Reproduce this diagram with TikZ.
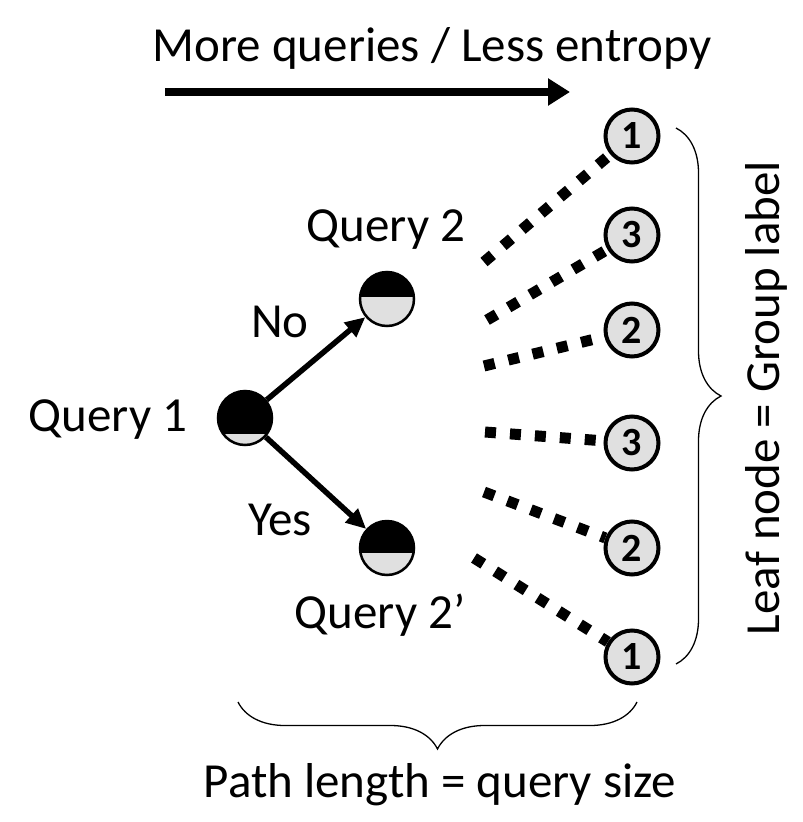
\documentclass[tikz,border=0pt]{standalone}
\usepackage{fontspec}
\setmainfont{Carlito}
\usetikzlibrary{arrows.meta,decorations.pathreplacing}
\definecolor{qgray}{RGB}{224,224,224}
\begin{document}
\begin{tikzpicture}[x=1pt,y=-1pt,
  lbl/.style={font=\fontsize{49}{58}\selectfont, inner sep=0pt},
  qnode/.style={circle, draw=black, line width=2.5pt, minimum size=54pt, inner sep=0pt,
    path picture={\fill[black] (path picture bounding box.south west) rectangle (path picture bounding box.north east);
      \fill[qgray] (path picture bounding box.south west) rectangle ([yshift=#1]path picture bounding box.south east);}},
  leaf/.style={circle, draw=black, line width=4pt, fill=qgray, minimum size=53pt, inner sep=0pt,
    font=\fontsize{40}{44}\selectfont\bfseries},
  branch/.style={line width=5.5pt, -{Triangle[length=20pt,width=18pt]}},
  dots/.style={line width=11pt, dash pattern=on 11pt off 14pt, line cap=butt},
  brace/.style={decorate, decoration={brace, amplitude=#1}, line width=1.3pt}
]
\useasboundingbox (0,0) rectangle (803,822);

% title
\node[lbl] (title) at (432,48) {More queries / Less entropy};
\coordinate (ta) at (165,92);
\coordinate (tb) at (570,92);
\draw[line width=8pt, -{Triangle[length=22pt,width=26pt]}] (ta) -- (tb);

% query nodes
\node[qnode=11pt] (q1) at (245,418) {};
\node[qnode=29pt] (q2) at (387,299) {};
\node[qnode=22pt] (q2b) at (387,548) {};

\node[lbl] (q1l) at (108,420) {Query 1};
\node[lbl] (q2l) at (386,230) {Query 2};
\node[lbl] (q2bl) at (380,615) {Query 2’};
\node[lbl] (no) at (280,322) {No};
\node[lbl] (yes) at (280,520) {Yes};

\draw[branch] (q1) -- (q2);
\draw[branch] (q1) -- (q2b);

% dotted connectors
\coordinate (s1) at (484,262);
\coordinate (s2) at (487,320);
\coordinate (s3) at (484,366);
\coordinate (s4) at (485,432);
\coordinate (s5) at (484,492);
\coordinate (s6) at (474,558);

\path (632,136) node[leaf] (l1) {1}
      (632,235) node[leaf] (l2) {3}
      (632,330) node[leaf] (l3) {2}
      (632,443) node[leaf] (l4) {3}
      (632,548) node[leaf] (l5) {2}
      (632,657) node[leaf] (l6) {1};

\draw[dots] (s1) -- (l1);
\draw[dots] (s2) -- (l2);
\draw[dots] (s3) -- (l3);
\draw[dots] (s4) -- (l4);
\draw[dots] (s5) -- (l5);
\draw[dots] (s6) -- (l6);

% braces
\coordinate (rb1) at (676,128);
\coordinate (rb2) at (676,664);
\draw[brace=45pt] (rb1) -- (rb2);
\coordinate (bb1) at (637,702);
\coordinate (bb2) at (238,702);
\draw[brace=47pt] (bb1) -- (bb2);

\node[lbl, rotate=90] (leafl) at (766,398) {Leaf node = Group label};
\node[lbl] (pathl) at (440,785) {Path length = query size};
\end{tikzpicture}
\end{document}
